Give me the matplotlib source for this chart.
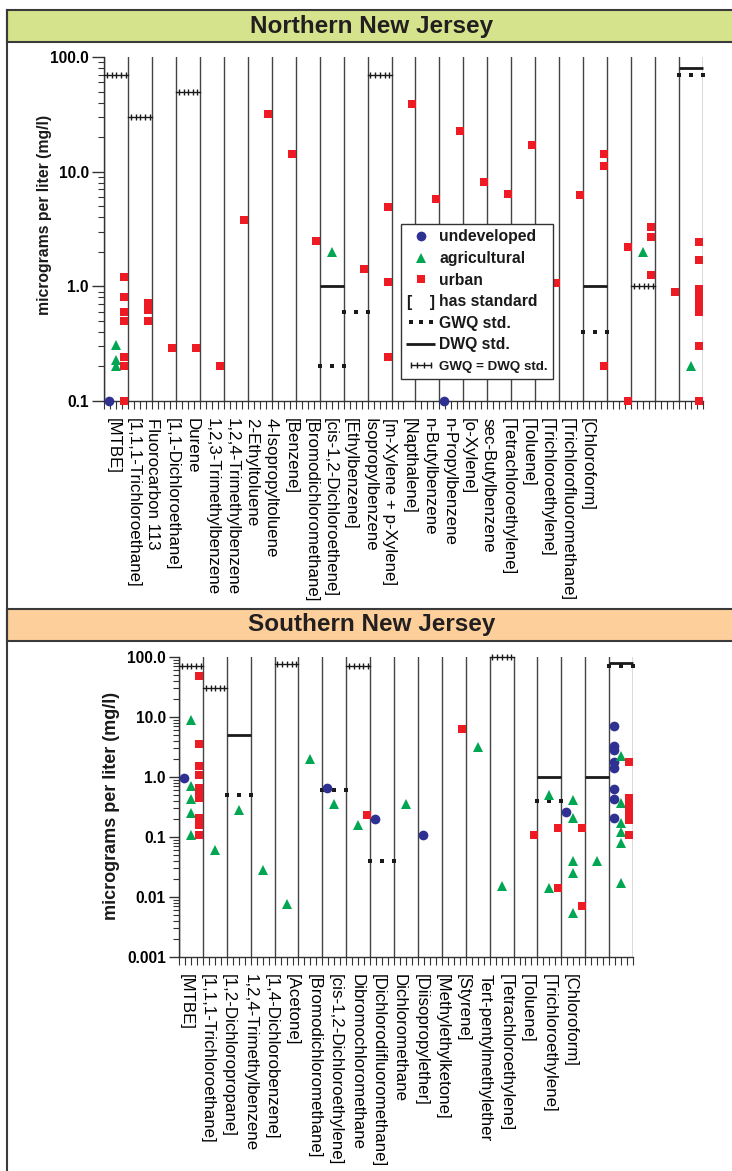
import numpy as np
import matplotlib
matplotlib.use("Agg")
import matplotlib.pyplot as plt
from matplotlib.lines import Line2D
from matplotlib.patches import Rectangle
from matplotlib.legend_handler import HandlerLine2D
from matplotlib.text import Text
from matplotlib.ticker import LogLocator, MultipleLocator, NullFormatter

plt.rcParams.update({
    "font.family": ["Liberation Sans", "DejaVu Sans"],
    "text.color": "#1a1a1a",
    "axes.edgecolor": "#333333",
})

# ---------- Northern New Jersey ----------
north_names = ["[MTBE]", "[1,1,1-Trichloroethane]", "Fluorocarbon 113", "[1,1-Dichloroethane]",
               "Durene", "1,2,3-Trimethylbenzene", "1,2,4-Trimethylbenzene", "2-Ethyltoluene",
               "4-Isopropyltoluene", "[Benzene]", "[Bromodichloromethane]", "[cis-1,2-Dichloroethene]",
               "[Ethylbenzene]", "Isopropylbenzene", "[m-Xylene + p-Xylene]", "[Napthalene]",
               "n-Butylbenzene", "n-Propylbenzene", "[o-Xylene]", "sec-Butylbenzene",
               "[Tetrachloroethylene]", "[Toluene]", "[Trichloroethylene]",
               "[Trichlorofluoromethane]", "[Chloroform]"]
north_undev_col = [0, 14]
north_undev_val = [0.1, 0.1]
north_agri_col = [0, 0, 0, 9, 22, 24]
north_agri_val = [0.31, 0.23, 0.2, 2.0, 2.0, 0.2]
north_urban_col = [0, 0, 0, 0, 0, 0, 0, 1, 1, 1, 2, 3, 4, 5, 6, 7, 8, 10, 11, 11, 11, 12, 13, 14,
                   15, 16, 17, 18, 19, 20, 20, 20, 21, 21, 22, 22, 22, 23,
                   24, 24, 24, 24, 24, 24, 24, 24, 24]
north_urban_val = [1.2, 0.8, 0.6, 0.5, 0.24, 0.2, 0.1, 0.72, 0.62, 0.5, 0.29, 0.29, 0.2, 3.8, 32,
                   14.4, 2.5, 1.42, 4.9, 1.1, 0.24, 39, 5.8, 22.5, 8.1, 6.4, 17, 1.07, 6.2,
                   14.2, 11.3, 0.2, 2.2, 0.1, 3.26, 2.67, 1.26, 0.9,
                   2.43, 1.71, 0.95, 0.85, 0.75, 0.67, 0.6, 0.3, 0.1]
north_gwq_col = [9, 10, 20, 24]
north_gwq_val = [0.2, 0.6, 0.4, 70]
north_dwq_col = [9, 20, 24]
north_dwq_val = [1.0, 1.0, 80]
north_both_col = [0, 1, 3, 11, 22]
north_both_val = [70, 30, 50, 70, 1.0]

# ---------- Southern New Jersey ----------
south_names = ["[MTBE]", "[1,1,1-Trichloroethane]", "[1,2-Dichloropropane]", "1,2,4-Trimethylbenzene",
               "[1,4-Dichlorobenzene]", "[Acetone]", "[Bromodichloromethane]",
               "[cis-1,2-Dichloroethylene]", "Dibromochloromethane", "[Dichlorodifluoromethane]",
               "Dichloromethane", "[Diisopropylether]", "[Methylethylketone]", "[Styrene]",
               "Tert-pentylmethylether", "[Tetrachloroethylene]", "[Toluene]",
               "[Trichloroethylene]", "[Chloroform]"]
south_undev_col = [0, 6, 8, 10, 16, 18, 18, 18, 18, 18, 18, 18, 18]
south_undev_val = [0.95, 0.66, 0.2, 0.11, 0.26, 7.2, 3.3, 2.8, 1.8, 1.4, 0.64, 0.43, 0.21]
south_agri_col = [0, 0, 0, 0, 0, 1, 2, 3, 4, 5, 6, 7, 9, 12, 13, 15, 15,
                  16, 16, 16, 16, 16, 17, 18, 18, 18, 18, 18, 18]
south_agri_val = [8.9, 0.72, 0.43, 0.25, 0.107, 0.06, 0.28, 0.028, 0.0076, 2.0, 0.35, 0.16, 0.35,
                  3.2, 0.0155, 0.5, 0.014, 0.42, 0.21, 0.04, 0.025, 0.0054, 0.04,
                  2.2, 0.37, 0.17, 0.12, 0.08, 0.017]
south_urban_col = [0, 0, 0, 0, 0, 0, 0, 0, 0, 0, 7, 11, 14, 15, 15, 16, 16,
                   18, 18, 18, 18, 18, 18, 18]
south_urban_val = [48, 3.5, 1.55, 1.1, 0.65, 0.55, 0.45, 0.21, 0.16, 0.11, 0.23, 6.4, 0.11,
                   0.14, 0.014, 0.14, 0.007, 1.75, 0.45, 0.36, 0.29, 0.24, 0.19, 0.11]
south_gwq_col = [2, 6, 8, 15, 18]
south_gwq_val = [0.5, 0.6, 0.04, 0.4, 70]
south_dwq_col = [2, 15, 17, 18]
south_dwq_val = [5, 1.0, 1.0, 80]
south_both_col = [0, 1, 4, 7, 13]
south_both_val = [70, 30, 75, 70, 100]

NAVY, GREEN, RED = "#2e3192", "#00a651", "#ed1c24"
INK = "#1a1a1a"
MS_CIRCLE, MS_TRI, MS_SQ = 7.0, 7.2, 6.0

W, H = 732, 1171
fig = plt.figure(figsize=(W / 100, H / 100), dpi=100)


def fx(px):
    return px / W


def fy(py):
    return 1 - py / H


def add_axes(left, top, right, bottom):
    return fig.add_axes([fx(left), fy(bottom), (right - left) / W, (bottom - top) / H])


def header(top, bottom, color, title):
    fig.add_artist(Rectangle((fx(7), fy(bottom)), fx(760) - fx(7), (bottom - top) / H,
                             transform=fig.transFigure, facecolor=color,
                             edgecolor="#3a3a3a", lw=1.5, clip_on=False))
    fig.text(fx(372), fy((top + bottom) / 2), title, ha="center", va="center",
             fontsize=17.5, fontweight="bold", color="#231f20")


def panel(ax, names, lab_x0, lab_step, undev, agri, urban, gwq, dwq, both,
          ylim, yticks, ylabels, major_len, minor_len):
    n = len(names)
    for i in range(n + 1):
        ax.axvline(i, color="#444444", lw=1.0, zorder=1)
    # standards
    for c, v in zip(*gwq):
        ax.plot([c, c + 0.5, c + 1], [v] * 3, ls="none", marker="s", ms=2.4,
                mew=0, color=INK, clip_on=False, zorder=3)
    for c, v in zip(*dwq):
        ax.plot([c, c + 1], [v, v], color=INK, lw=2.0, solid_capstyle="butt",
                clip_on=False, zorder=3)
    for c, v in zip(*both):
        ax.plot([c, c + 1], [v, v], color=INK, lw=1.0, clip_on=False, zorder=3)
        ax.plot(c + np.array([0.12, 0.32, 0.52, 0.72, 0.9]), [v] * 5, ls="none",
                marker="|", ms=4.5, mew=1.0, color=INK, clip_on=False, zorder=3)
    # samples
    ax.plot(np.array(undev[0]) + 0.2, undev[1], ls="none", marker="o", ms=MS_CIRCLE,
            mew=0, color=NAVY, clip_on=False, zorder=5)
    ax.plot(np.array(agri[0]) + 0.5, agri[1], ls="none", marker="^", ms=MS_TRI,
            mew=0, color=GREEN, clip_on=False, zorder=5)
    ax.plot(np.array(urban[0]) + 0.85, urban[1], ls="none", marker="s", ms=MS_SQ,
            mew=0, color=RED, clip_on=False, zorder=5)

    ax.set_yscale("log")
    ax.set_ylim(*ylim)
    ax.set_xlim(0, n)
    ax.set_yticks(yticks, ylabels)
    ax.yaxis.set_minor_locator(LogLocator(base=10, subs=np.arange(2, 10)))
    ax.yaxis.set_minor_formatter(NullFormatter())
    ax.tick_params(axis="y", which="major", length=major_len, width=1.0, pad=2,
                   labelsize=11.2, color="#333333")
    ax.tick_params(axis="y", which="minor", length=minor_len, width=0.8, color="#333333")
    for t in ax.get_yticklabels():
        t.set_fontweight("bold")

    ax.set_xticks(lab_x0 + lab_step * np.arange(n), names, rotation=270)
    ax.xaxis.set_minor_locator(MultipleLocator(0.25))
    ax.tick_params(axis="x", which="major", length=0, pad=12, labelsize=12.2)
    ax.tick_params(axis="x", which="minor", length=6, width=0.8, color="#333333")
    for s in ("top", "right"):
        ax.spines[s].set_visible(False)
    for s in ("left", "bottom"):
        ax.spines[s].set_linewidth(1.0)


class Bracket:
    pass


class BracketHandler:
    def legend_artist(self, legend, orig_handle, fontsize, handlebox):
        x0, y0 = handlebox.xdescent, handlebox.ydescent
        t = Text(-x0 + handlebox.width / 2, -y0 + handlebox.height / 2 - 1, "[    ]",
                 ha="center", va="center", fontsize=fontsize, fontweight="bold", color=INK)
        handlebox.add_artist(t)
        return t


# frame and headers
fig.add_artist(Line2D([fx(7), fx(7)], [fy(10), fy(1171)], transform=fig.transFigure,
                      color="#3a3a3a", lw=1.5))
header(10, 42, "#d5e48c", "Northern New Jersey")
header(609, 641, "#fdd09b", "Southern New Jersey")

ax1 = add_axes(104, 57, 703, 401)
panel(ax1, north_names, 0.39, 0.824,
      (north_undev_col, north_undev_val), (north_agri_col, north_agri_val),
      (north_urban_col, north_urban_val), (north_gwq_col, north_gwq_val),
      (north_dwq_col, north_dwq_val), (north_both_col, north_both_val),
      (0.1, 100), [0.1, 1, 10, 100], ["0.1", "1.0", "10.0", "100.0"], 9, 4.5)
fig.text(fx(45), fy(215), "micrograms per liter (mg/l)", rotation=90, ha="center",
         va="center", fontsize=11.3, fontweight="bold")

ax2 = add_axes(179, 657, 633, 957)
panel(ax2, south_names, 0.29, 0.894,
      (south_undev_col, south_undev_val), (south_agri_col, south_agri_val),
      (south_urban_col, south_urban_val), (south_gwq_col, south_gwq_val),
      (south_dwq_col, south_dwq_val), (south_both_col, south_both_val),
      (0.001, 100), [0.001, 0.01, 0.1, 1, 10, 100],
      ["0.001", "0.01", "0.1", "1.0", "10.0", "100.0"], 7.5, 4.5)
fig.text(fx(112), fy(806), "micrograms per liter (mg/l)", rotation=90, ha="center",
         va="center", fontsize=13, fontweight="bold")

# legend
h_und = Line2D([], [], ls="none", marker="o", ms=MS_CIRCLE, mew=0, color=NAVY)
h_agr = Line2D([], [], ls="none", marker="^", ms=MS_TRI, mew=0, color=GREEN)
h_urb = Line2D([], [], ls="none", marker="s", ms=MS_SQ, mew=0, color=RED)
h_br = Bracket()
h_gwq = Line2D([], [], ls="none", marker="s", ms=2.4, mew=0, color=INK)
h_dwq = Line2D([], [], color=INK, lw=2.0, solid_capstyle="butt")
h_both = Line2D([], [], color=INK, lw=1.0, marker="|", ms=4.5, mew=1.0)
leg = ax1.legend([h_und, h_agr, h_urb, h_br, h_gwq, h_dwq, h_both],
                 ["undeveloped", "agricultural", "urban", "has standard", "GWQ std.",
                  "DWQ std.", "GWQ = DWQ std."],
                 handler_map={Bracket: BracketHandler(),
                              h_gwq: HandlerLine2D(numpoints=3),
                              h_both: HandlerLine2D(numpoints=4)},
                 loc="upper left", bbox_to_anchor=((400.7 - 104) / 599, (401 - 224) / 344),
                 borderaxespad=0, prop={"weight": "bold", "size": 11.3},
                 handlelength=1.85, handletextpad=0.25, borderpad=0.35, labelspacing=0.42,
                 frameon=True, fancybox=False, edgecolor="#333333", framealpha=1)
leg.get_frame().set_linewidth(1.0)
leg.set_zorder(10)
leg.get_texts()[6].set_fontsize(9.6)

fig.savefig("out.png", dpi=100, facecolor="white")
